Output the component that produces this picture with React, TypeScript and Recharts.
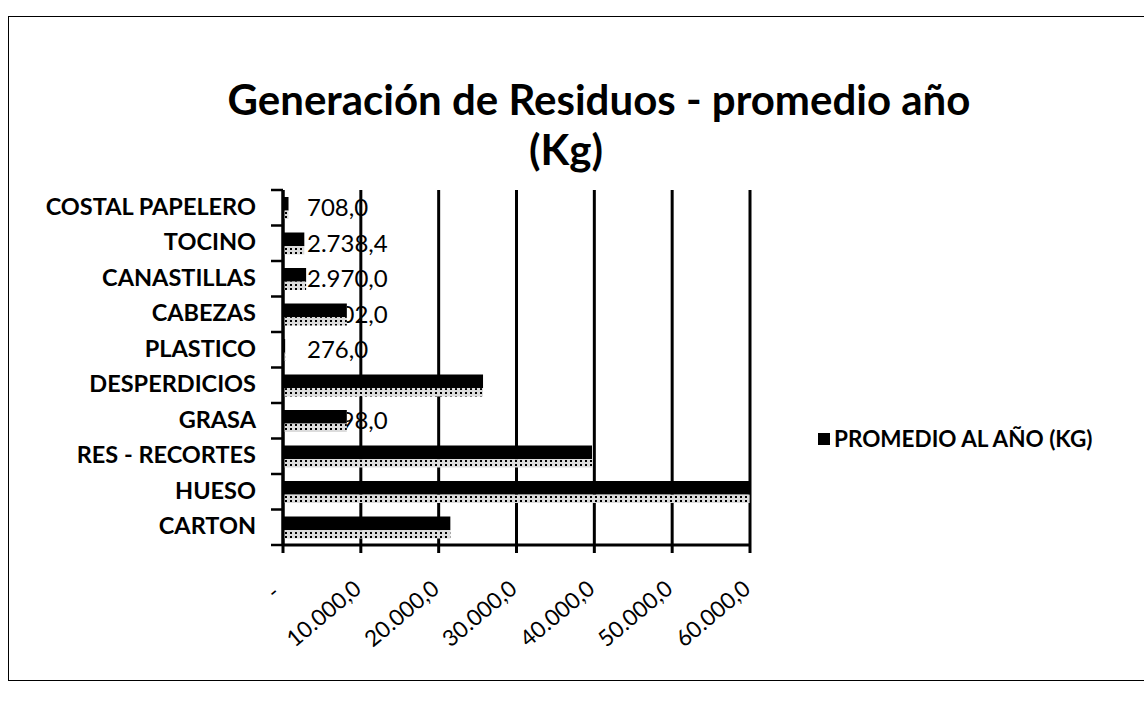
import { BarChart, Bar, XAxis, YAxis, CartesianGrid, LabelList } from "recharts";

// Categories listed top to bottom as they appear in the chart
const CATEGORIES = [
  "COSTAL PAPELERO",
  "TOCINO",
  "CANASTILLAS",
  "CABEZAS",
  "PLASTICO",
  "DESPERDICIOS",
  "GRASA",
  "RES - RECORTES",
  "HUESO",
  "CARTON",
];
const PROMEDIO = [708, 2738.4, 2970, 8202, 276, 25700, 8198, 39700, 59950, 21500];
const X_TICKS = [0, 10000, 20000, 30000, 40000, 50000, 60000];
const SERIES_NAME = "PROMEDIO AL AÑO (KG)";

const data = CATEGORIES.map((name, i) => ({ name, value: PROMEDIO[i] }));

const FONT = "Lato, 'Open Sans', sans-serif";
const CHART_H = 702;
const MARGIN = { top: 190, right: 394, bottom: 97, left: 33 };
const X_AXIS_H = 60;
const BAND = (CHART_H - MARGIN.top - MARGIN.bottom - X_AXIS_H) / CATEGORIES.length;

// es-style number: 2.738,4
function fmt(v: number) {
  const fixed = v.toFixed(1);
  const [int, dec] = fixed.split(".");
  return int.replace(/\B(?=(\d{3})+(?!\d))/g, ".") + "," + dec;
}

function XTick({ x, y, payload }: any) {
  if (payload.value === 0) {
    return (
      <text x={x - 2} y={y + 40} fontSize={22} fontFamily={FONT} fill="#000" textAnchor="end"
        transform={`rotate(-40 ${x - 2} ${y + 40})`}>
        -
      </text>
    );
  }
  return (
    <text x={x + 2} y={y + 36} fontSize={22.5} fontFamily={FONT} fill="#000" textAnchor="end"
      transform={`rotate(-40 ${x + 2} ${y + 36})`}>
      {fmt(payload.value)}
    </text>
  );
}

// category label plus Excel-style tick marks on the category boundaries
function YTick({ x, y, payload, index }: any) {
  const ax = x + 6;
  return (
    <g>
      <line x1={ax - 12} x2={ax} y1={y - BAND / 2} y2={y - BAND / 2} stroke="#000" strokeWidth={2.5} />
      {index === CATEGORIES.length - 1 && (
        <line x1={ax - 12} x2={ax} y1={y + BAND / 2} y2={y + BAND / 2} stroke="#000" strokeWidth={2.5} />
      )}
      <text x={x - 21} y={y + 7} fontSize={23.5} fontWeight={700} fontFamily={FONT} fill="#000" textAnchor="end">
        {payload.value}
      </text>
    </g>
  );
}

function StippleBar({ x, y, width, height }: any) {
  const top = height * 0.62;
  return (
    <g>
      <rect x={x} y={y} width={width} height={top} fill="#000" />
      <rect x={x} y={y + top} width={width} height={height - top} fill="url(#stipple)" />
    </g>
  );
}

// label drawn from the bar's base, hidden where the bar covers it
function HiddenLabel({ x, y, width, height, value, index }: any) {
  const id = `lblclip-${index}`;
  return (
    <g>
      <defs>
        <clipPath id={id}>
          <rect x={x + width} y={y - 20} width={600} height={height + 40} />
        </clipPath>
      </defs>
      <text x={x + 24} y={y + height / 2 + 8} fontSize={24} fontFamily={FONT} fill="#000" clipPath={`url(#${id})`}>
        {fmt(Number(value))}
      </text>
    </g>
  );
}

export default function App() {
  return (
    <div style={{ position: "absolute", left: 0, top: 0, width: 1144, height: 702, background: "#fff" }}>
      <div
        style={{
          position: "absolute",
          left: 8,
          top: 16,
          width: 1140,
          height: 663,
          borderLeft: "1.5px solid #000",
          borderTop: "1.5px solid #000",
          borderBottom: "1.5px solid #000",
        }}
      />
      <div
        style={{
          position: "absolute",
          left: 0,
          width: 1144,
          top: 74,
          textAlign: "center",
          fontFamily: FONT,
          fontWeight: 700,
          fontSize: 42,
          lineHeight: "50px",
          color: "#000",
        }}
      >
        <div style={{ marginLeft: 54 }}>Generación de Residuos - promedio año</div>
        <div style={{ marginLeft: -12 }}>(Kg)</div>
      </div>
      <div
        style={{
          position: "absolute",
          left: 818,
          top: 425,
          display: "flex",
          alignItems: "center",
          fontFamily: FONT,
          fontWeight: 700,
          fontSize: 22.5,
          color: "#000",
          whiteSpace: "nowrap",
        }}
      >
        <span style={{ display: "inline-block", width: 12, height: 12, background: "#000", marginRight: 4 }} />
        {SERIES_NAME}
      </div>
      <BarChart
        width={1144}
        height={CHART_H}
        layout="vertical"
        data={data}
        margin={MARGIN}
        barSize={22}
        style={{ position: "absolute", left: 0, top: 0 }}
      >
        <defs>
          <pattern id="stipple" width="5" height="4" patternUnits="userSpaceOnUse">
            <rect width="5" height="4" fill="#dcdcdc" />
            <rect x="0" y="0" width="2" height="2" fill="#000" />
          </pattern>
        </defs>
        <CartesianGrid horizontal={false} vertical stroke="#000" strokeWidth={3} />
        <XAxis
          type="number"
          domain={[0, 60000]}
          ticks={X_TICKS}
          allowDataOverflow
          interval={0}
          height={X_AXIS_H}
          stroke="#000"
          strokeWidth={3}
          tickSize={8}
          tick={<XTick />}
        />
        <YAxis
          type="category"
          dataKey="name"
          width={250}
          stroke="#000"
          strokeWidth={3}
          tickLine={false}
          tickMargin={0}
          tick={<YTick />}
          interval={0}
        />
        <Bar dataKey="value" name={SERIES_NAME} shape={<StippleBar />} isAnimationActive={false}>
          <LabelList dataKey="value" content={<HiddenLabel />} />
        </Bar>
      </BarChart>
    </div>
  );
}
